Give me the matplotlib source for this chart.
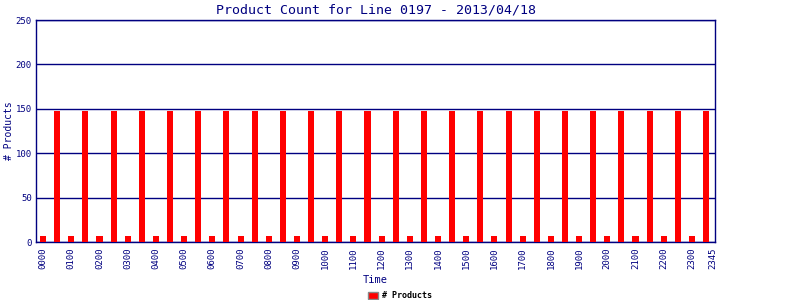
import matplotlib
matplotlib.use("Agg")
import matplotlib.pyplot as plt
from matplotlib.patches import Patch

# half-hour slots, 0000 .. 2330
slots = [f"{h:02d}{m:02d}" for h in range(24) for m in (0, 30)]
counts = [7, 147] * 24
tick_pos = list(range(0, 48, 2)) + [47.5]
tick_labels = [f"{h:02d}00" for h in range(24)] + ["2345"]

NAVY = "#000080"
plt.rcParams["font.family"] = ["DejaVu Sans Mono", "DejaVu Sans"]

fig = plt.figure(figsize=(8, 3), dpi=100)
ax = fig.add_axes([0.045, 0.1933, 0.849, 0.74])

x = list(range(len(slots)))
ax.bar(x, counts, width=0.43, color="#ff0000", zorder=3)

ax.set_xlim(-0.5, 47.65)
ax.set_ylim(0, 250)
ax.set_yticks([0, 50, 100, 150, 200, 250])
ax.yaxis.grid(True, color=NAVY, lw=1.0, zorder=1)
ax.set_xticks(tick_pos)
ax.set_xticklabels(tick_labels, rotation=90, fontsize=6.5, color=NAVY)
ax.tick_params(axis="y", labelsize=6.5, colors=NAVY, length=0, pad=3)
ax.tick_params(axis="x", length=0, pad=4)
for s in ax.spines.values():
    s.set_color(NAVY)
    s.set_linewidth(1.0)

ax.set_title("Product Count for Line 0197 - 2013/04/18", fontsize=9.5, color=NAVY, pad=5)
ax.set_xlabel("Time", fontsize=7.5, color=NAVY, labelpad=4)
fig.text(0.011, 0.563, "# Products", rotation=90, fontsize=7, color=NAVY,
         ha="center", va="center")

fig.legend(handles=[Patch(facecolor="#ff0000", edgecolor="#888888", label="# Products")],
           loc="lower center", bbox_to_anchor=(0.5, -0.025), frameon=False,
           prop={"weight": "bold", "size": 6},
           handlelength=1.2, handleheight=0.9, handletextpad=0.4)

fig.savefig("out.png", dpi=100)
